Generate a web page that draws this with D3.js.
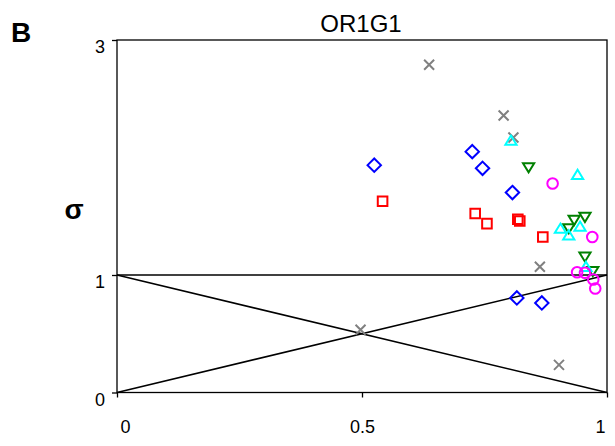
<!DOCTYPE html>
<html>
<head>
<meta charset="utf-8">
<script src="https://cdn.jsdelivr.net/npm/d3@7/dist/d3.min.js"></script>
<style>
  html, body { margin: 0; padding: 0; background: #fff; }
  text { font-family: Arial, "Liberation Sans", sans-serif; }
</style>
</head>
<body>
<svg id="chart" width="615" height="446"></svg>
<script>
// ---------- data ----------
const title = "OR1G1";
const panelLabel = "B";
const yLabel = "σ";
const xTicks = [0, 0.5, 1];
const xTickLabels = ["0", "0.5", "1"];
const yTicks = [0, 1, 3];
const yTickLabels = ["0", "1", "3"];

const grayX = [[0.637, 2.79], [0.789, 2.357], [0.809, 2.17], [0.863, 1.07], [0.497, 0.534], [0.902, 0.235]];
const blueDiamond = [[0.525, 1.935], [0.725, 2.05], [0.746, 1.908], [0.807, 1.702], [0.816, 0.805], [0.867, 0.762]];
const redSquare = [[0.542, 1.628], [0.731, 1.523], [0.755, 1.437], [0.818, 1.474], [0.822, 1.46], [0.869, 1.323]];
const greenDown = [[0.840, 1.916], [0.933, 1.468], [0.955, 1.494], [0.922, 1.397], [0.955, 1.156], [0.971, 1.033]];
const cyanUp = [[0.804, 2.144], [0.940, 1.853], [0.905, 1.395], [0.922, 1.338], [0.945, 1.412], [0.957, 1.07]];
const magentaCircle = [[0.889, 1.779], [0.970, 1.323], [0.939, 1.024], [0.955, 1.019], [0.972, 0.962], [0.976, 0.885]];

// reference lines: y = 1, y = 1 - x, y = x
const refLines = [[[0, 1], [1, 1]], [[0, 1], [1, 0]], [[0, 0], [1, 1]]];

// ---------- layout ----------
const svg = d3.select("#chart");
const plotL = 117, plotR = 607, plotT = 40, plotB = 392.5;
const x = d3.scaleLinear().domain([0, 1]).range([plotL, plotR]);
const y = d3.scaleLinear().domain([0, 3]).range([plotB, plotT]);

// plot frame
svg.append("rect")
  .attr("x", plotL).attr("y", plotT)
  .attr("width", plotR - plotL).attr("height", plotB - plotT)
  .attr("fill", "none").attr("stroke", "#000").attr("stroke-width", 1.3);

// reference lines
const line = d3.line().x(d => x(d[0])).y(d => y(d[1]));
svg.selectAll("path.ref").data(refLines).enter().append("path")
  .attr("class", "ref")
  .attr("d", line)
  .attr("fill", "none").attr("stroke", "#000").attr("stroke-width", 1.6);

// axes
const xAxis = svg.append("g").attr("transform", `translate(0,${plotB})`)
  .call(d3.axisBottom(x).tickValues(xTicks).tickFormat((d, i) => xTickLabels[i])
    .tickSize(5).tickSizeOuter(0).tickPadding(23));
xAxis.select(".domain").remove();
xAxis.selectAll("line").attr("stroke", "#000").attr("stroke-width", 1.3);
xAxis.selectAll("text").attr("font-size", 18).attr("fill", "#000")
  .attr("font-family", "Arial, 'Liberation Sans', sans-serif")
  .attr("dx", (d, i) => i === 0 ? 8 : (i === xTicks.length - 1 ? -7 : 0));

const yAxis = svg.append("g").attr("transform", `translate(${plotL},0)`)
  .call(d3.axisLeft(y).tickValues(yTicks).tickFormat((d, i) => yTickLabels[i])
    .tickSize(5).tickSizeOuter(0).tickPadding(7));
yAxis.select(".domain").remove();
yAxis.selectAll("line").attr("stroke", "#000").attr("stroke-width", 1.3);
yAxis.selectAll("text").attr("font-size", 18).attr("fill", "#000")
  .attr("font-family", "Arial, 'Liberation Sans', sans-serif")
  .attr("y", 7);

// titles
svg.append("text").attr("x", 361).attr("y", 32).attr("text-anchor", "middle")
  .attr("font-size", 24).text(title);
svg.append("text").attr("x", 11).attr("y", 42)
  .attr("font-size", 28).attr("font-weight", "bold").text(panelLabel);
svg.append("text").attr("x", 74).attr("y", 219).attr("text-anchor", "middle")
  .attr("font-size", 28).attr("font-weight", "bold").text(yLabel);

// ---------- markers ----------
const shapes = {
  x: "M-5,-5L5,5M-5,5L5,-5",
  diamond: "M0,-6.7L6.7,0L0,6.7L-6.7,0Z",
  square: "M-4.8,-4.8H4.8V4.8H-4.8Z",
  down: "M-5.6,-4.2H5.6L0,5Z",
  up: "M0,-5L5.6,4.2H-5.6Z",
  circle: "M5.3,0A5.3,5.3 0 1,1 -5.3,0A5.3,5.3 0 1,1 5.3,0Z"
};
const seriesList = [
  { data: grayX, shape: "x", color: "#808080" },
  { data: blueDiamond, shape: "diamond", color: "#0000FF" },
  { data: redSquare, shape: "square", color: "#FF0000" },
  { data: greenDown, shape: "down", color: "#008000" },
  { data: cyanUp, shape: "up", color: "#00FFFF" },
  { data: magentaCircle, shape: "circle", color: "#FF00FF" }
];
seriesList.forEach(s => {
  svg.append("g").selectAll("path").data(s.data).enter().append("path")
    .attr("transform", d => `translate(${x(d[0])},${y(d[1])})`)
    .attr("d", shapes[s.shape])
    .attr("fill", "none")
    .attr("stroke", s.color)
    .attr("stroke-width", 2);
});
</script>
</body>
</html>
